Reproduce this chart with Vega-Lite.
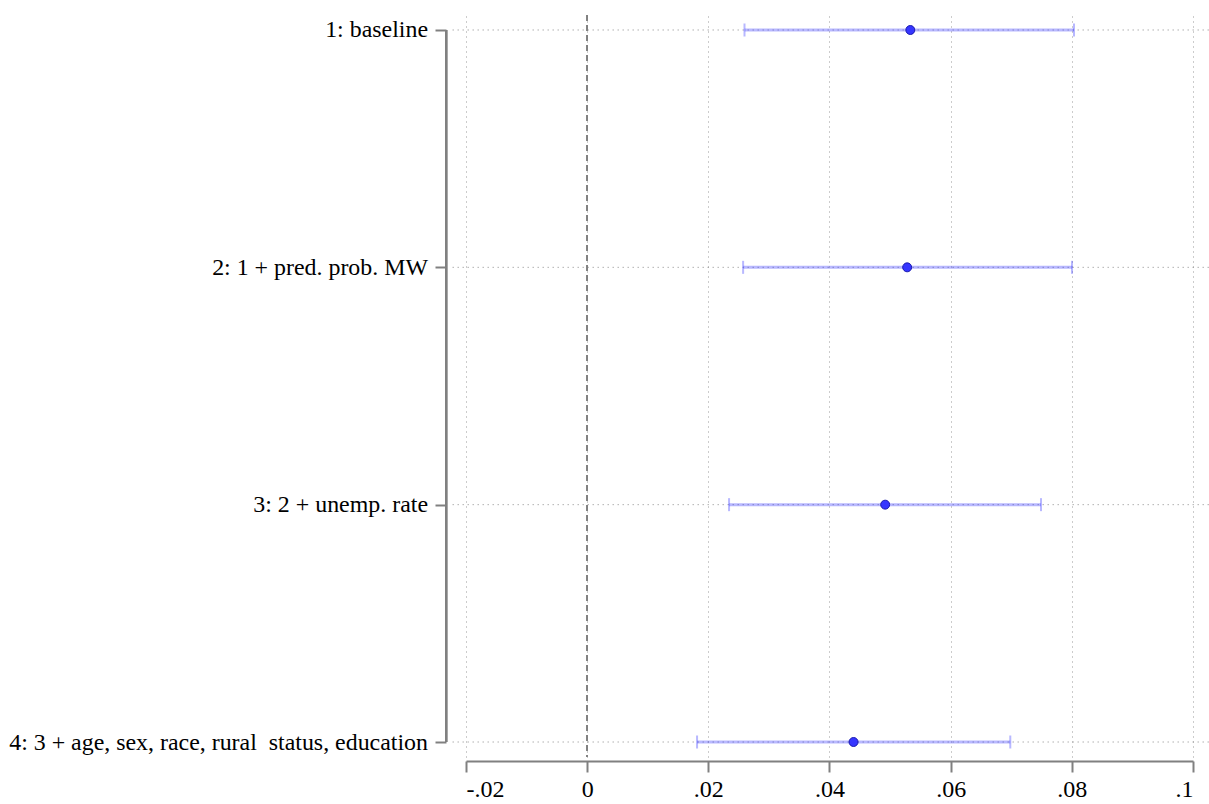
{
  "$schema": "https://vega.github.io/schema/vega-lite/v6.json",
  "width": 727,
  "height": 742,
  "autosize": {"type": "none"},
  "padding": {"left": 466, "top": 15, "right": 16, "bottom": 47},
  "background": "white",
  "config": {
    "view": {"stroke": null},
    "font": "Times New Roman, Liberation Serif, serif"
  },
  "data": {
    "values": [
      {"model": "1: baseline", "est": 0.05334, "lo": 0.02597, "hi": 0.08036},
      {"model": "2: 1 + pred. prob. MW", "est": 0.05282, "lo": 0.02574, "hi": 0.08003},
      {"model": "3: 2 + unemp. rate", "est": 0.04919, "lo": 0.02342, "hi": 0.07491},
      {"model": "4: 3 + age, sex, race, rural\u00a0 status, education", "est": 0.04397, "lo": 0.01814, "hi": 0.06984}
    ]
  },
  "layer": [
    {
      "mark": {"type": "rule", "color": "#888888", "strokeWidth": 1, "strokeDash": [1, 4]},
      "encoding": {
        "y": {
          "field": "model", "type": "nominal", "sort": null,
          "scale": {"type": "point", "padding": 0.0632},
          "axis": {"title": null, "domain": false, "grid": false, "offset": 20, "tickSize": 11, "tickWidth": 2, "tickColor": "#808080", "labelPadding": 7.5,
            "labelFont": "Times New Roman, Liberation Serif, serif", "labelFontSize": 23.9, "labelColor": "black", "labelLimit": 0}
        },
        "x": {
          "datum": -0.0222, "type": "quantitative",
          "scale": {"domain": [-0.02, 0.1], "nice": false, "zero": false},
          "axis": {
            "title": null, "values": [-0.02, 0, 0.02, 0.04, 0.06, 0.08, 0.1],
            "labelExpr": "datum.value == 0 ? '0' : replace(replace(format(datum.value, '.2~f'), '0.', '.'), '\u2212', '-')",
            "labelFont": "Times New Roman, Liberation Serif, serif", "labelFontSize": 24, "labelColor": "black", "labelLimit": 0,
            "offset": 4, "domainColor": "#808080", "domainWidth": 2, "tickColor": "#808080", "tickWidth": 2, "tickSize": 11, "labelPadding": 5,
            "grid": true, "gridColor": "#999999", "gridDash": [1, 4], "gridWidth": 1
          }
        },
        "x2": {"datum": 0.1026}
      }
    },
    {
      "mark": {"type": "rule", "color": "#808080", "strokeWidth": 1.5, "strokeDash": [6, 4]},
      "encoding": {"x": {"datum": 0, "type": "quantitative"}}
    },
    {
      "mark": {"type": "rule", "color": "#808080", "strokeWidth": 2},
      "encoding": {
        "x": {"datum": -0.02326, "type": "quantitative"},
        "y": {"datum": "1: baseline"},
        "y2": {"datum": "4: 3 + age, sex, race, rural\u00a0 status, education"}
      }
    },
    {
      "mark": {"type": "rule", "color": "#3333ff", "opacity": 0.35, "strokeWidth": 3},
      "encoding": {
        "y": {"field": "model", "type": "nominal", "sort": null},
        "x": {"field": "lo", "type": "quantitative"},
        "x2": {"field": "hi"}
      }
    },
    {
      "mark": {"type": "tick", "color": "#3333ff", "opacity": 0.35, "thickness": 2, "size": 13},
      "encoding": {
        "y": {"field": "model", "type": "nominal", "sort": null},
        "x": {"field": "lo", "type": "quantitative"}
      }
    },
    {
      "mark": {"type": "tick", "color": "#3333ff", "opacity": 0.35, "thickness": 2, "size": 13},
      "encoding": {
        "y": {"field": "model", "type": "nominal", "sort": null},
        "x": {"field": "hi", "type": "quantitative"}
      }
    },
    {
      "mark": {"type": "point", "shape": "circle", "filled": true, "fill": "#3535ff", "stroke": "#1a1ab0", "strokeWidth": 1, "opacity": 1, "size": 80},
      "encoding": {
        "y": {"field": "model", "type": "nominal", "sort": null},
        "x": {"field": "est", "type": "quantitative"}
      }
    }
  ]
}
